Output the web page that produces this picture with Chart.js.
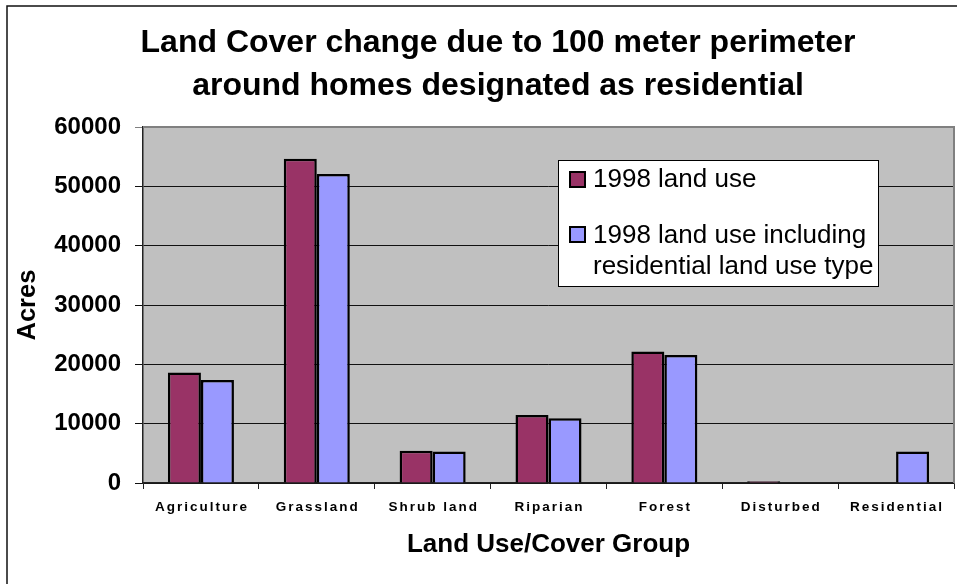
<!DOCTYPE html>
<html>
<head>
<meta charset="utf-8">
<title>Land Cover change</title>
<script src="https://cdn.jsdelivr.net/npm/chart.js@4/dist/chart.umd.min.js"></script>
<style>
  body { margin: 0; background: #fff; }
  #wrap { position: relative; width: 957px; height: 584px; }
</style>
</head>
<body>
<div id="wrap"><canvas id="landChart"></canvas></div>
<script>
const categories = ['Agriculture', 'Grassland', 'Shrub land', 'Riparian', 'Forest', 'Disturbed', 'Residential'];
const landUse1998 = [18650, 54650, 5450, 11450, 22150, 300, 0];
const landUseWithResidential = [17350, 52100, 5300, 10900, 21600, 0, 5300];
const seriesNames = ['1998 land use', '1998 land use including residential land use type'];
const legendLines = [['1998 land use'], ['1998 land use including', 'residential land use type']];
const titleLines = ['Land Cover change due to 100 meter perimeter', 'around homes designated as residential'];

const FONT = '"Liberation Sans", Arial, sans-serif';

// frame lines + grey plot background
const backdrop = {
  id: 'backdrop',
  beforeDraw(chart) {
    const { ctx, chartArea: a } = chart;
    ctx.save();
    ctx.fillStyle = '#c0c0c0';
    ctx.fillRect(a.left, a.top, a.right - a.left, a.bottom - a.top);
    ctx.strokeStyle = '#111';
    ctx.lineWidth = 1.5;
    ctx.beginPath();
    ctx.moveTo(7, 584);
    ctx.lineTo(7, 6);
    ctx.lineTo(957, 6);
    ctx.stroke();
    ctx.restore();
  },
  beforeDatasetsDraw(chart) {
    const { ctx, chartArea: a } = chart;
    ctx.save();
    ctx.strokeStyle = '#808080';
    ctx.lineWidth = 2;
    ctx.beginPath();
    ctx.moveTo(a.left, a.top);
    ctx.lineTo(a.right, a.top);
    ctx.lineTo(a.right, a.bottom);
    ctx.stroke();
    ctx.restore();
  }
};

// x labels with letter spacing, like the original
const spacedTicks = {
  id: 'spacedTicks',
  afterDraw(chart) {
    const { ctx } = chart;
    const x = chart.scales.x;
    ctx.save();
    ctx.font = 'bold 13.5px ' + FONT;
    ctx.letterSpacing = '2px';
    ctx.fillStyle = '#000';
    ctx.textAlign = 'center';
    ctx.textBaseline = 'middle';
    chart.data.labels.forEach((lab, i) => {
      ctx.fillText(lab, x.getPixelForValue(i) + 1, 507);
    });
    ctx.restore();
  }
};

// legend box inside the plot
const boxLegend = {
  id: 'boxLegend',
  afterDraw(chart) {
    const { ctx } = chart;
    ctx.save();
    ctx.fillStyle = '#fff';
    ctx.fillRect(558, 160, 320, 126);
    ctx.strokeStyle = '#000';
    ctx.lineWidth = 1;
    ctx.strokeRect(558.5, 160.5, 320, 126);
    ctx.font = '26px ' + FONT;
    ctx.textBaseline = 'alphabetic';
    const tops = [172, 227];
    const bases = [187, 243];
    chart.data.datasets.forEach((ds, i) => {
      ctx.fillStyle = ds.backgroundColor;
      ctx.fillRect(570, tops[i], 15, 15);
      ctx.lineWidth = 2;
      ctx.strokeStyle = '#000';
      ctx.strokeRect(570, tops[i], 15, 15);
      ctx.fillStyle = '#000';
      legendLines[i].forEach((line, j) => {
        ctx.fillText(line, 593, bases[i] + j * 31);
      });
    });
    ctx.restore();
  }
};

const chart = new Chart(document.getElementById('landChart'), {
  type: 'bar',
  data: {
    labels: categories,
    datasets: [
      {
        label: seriesNames[0],
        data: landUse1998,
        backgroundColor: '#993366',
        borderColor: '#000',
        borderWidth: 2.5
      },
      {
        label: seriesNames[1],
        data: landUseWithResidential,
        backgroundColor: '#9999ff',
        borderColor: '#000',
        borderWidth: 2.5
      }
    ]
  },
  options: {
    responsive: true,
    maintainAspectRatio: false,
    animation: false,
    layout: { padding: { left: 42, right: 3, top: 0, bottom: 0 } },
    datasets: { bar: { categoryPercentage: 0.57, barPercentage: 1 } },
    plugins: {
      legend: { display: false },
      tooltip: { enabled: false },
      title: {
        display: true,
        text: titleLines,
        color: '#000',
        font: { family: FONT, size: 32, weight: 'bold', lineHeight: 1.33 },
        padding: { top: 22, bottom: 20 }
      }
    },
    scales: {
      x: {
        afterFit(scale) { scale.height = 101; },
        ticks: { display: false },
        grid: { offset: true, drawOnChartArea: false, drawTicks: true, tickLength: 6, color: '#222', lineWidth: 1 },
        border: { display: true, color: '#222', width: 1.5 },
        title: {
          display: true,
          text: 'Land Use/Cover Group',
          color: '#000',
          font: { family: FONT, size: 26, weight: 'bold', lineHeight: 1.2 },
          padding: { top: 0, bottom: 24 }
        }
      },
      y: {
        min: 0,
        max: 60000,
        afterFit(scale) { scale.width = 101; },
        ticks: {
          stepSize: 10000,
          color: '#000',
          padding: 14,
          font: { family: FONT, size: 24, weight: 'bold' },
          callback: v => String(v)
        },
        grid: {
          color: ctx => (ctx.tick && ctx.tick.value === 60000 ? '#808080' : '#111'),
          lineWidth: 1,
          tickLength: 8
        },
        border: { display: true, color: '#222', width: 1.5 },
        title: {
          display: true,
          text: 'Acres',
          color: '#000',
          font: { family: FONT, size: 25.5, weight: 'bold', lineHeight: 1.2 },
          padding: { top: -29.8, bottom: 0 }
        }
      }
    }
  },
  plugins: [backdrop, spacedTicks, boxLegend]
});
</script>
</body>
</html>
